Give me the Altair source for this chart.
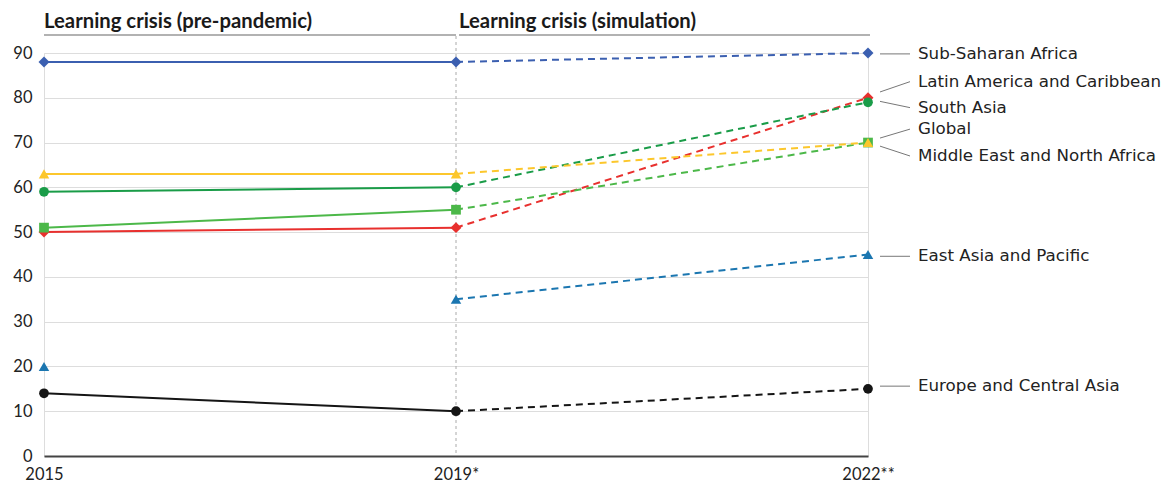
import altair as alt
import pandas as pd

# ---- data ----
years = ["2015", "2019*", "2022**"]
series = [
    "Sub-Saharan Africa",
    "Latin America and Caribbean",
    "South Asia",
    "Global",
    "Middle East and North Africa",
    "East Asia and Pacific",
    "Europe and Central Asia",
]
v2015 = [88, 50, 59, 51, 63, 20, 14]
v2019 = [88, 51, 60, 55, 63, 35, 10]
v2022 = [90, 80, 79, 70, 70, 45, 15]
pre_line = [True, True, True, True, True, False, True]

colors = ["#3b5fb0", "#e8302e", "#1a9c48", "#4cb849", "#fcc72c", "#1b76b0", "#151515"]
shapes = ["diamond", "diamond", "circle", "square", "triangle-up", "triangle-up", "circle"]
sizes = [120, 120, 95, 95, 110, 110, 95]

# label layout (in data units)
label_y = [89.8, 83.6, 77.8, 73.0, 67.0, 44.6, 15.6]
leader_y = [89.8, 81.3, 79.2, 71.0, 69.2, 44.6, 15.6]

headers = ["Learning crisis (pre-pandemic)", "Learning crisis (simulation)"]

FONT = "Lato"
LABEL_FONT = "DejaVu Sans"

rows = []
for i, s in enumerate(series):
    vals = [v2015[i], v2019[i], v2022[i]]
    for j, v in enumerate(vals):
        rows.append({"series": s, "idx": j, "value": v, "order": i, "size": sizes[i]})
df = pd.DataFrame(rows)

pre_rows = []
sim_rows = []
for i, s in enumerate(series):
    if pre_line[i]:
        pre_rows += [{"series": s, "idx": 0, "value": v2015[i]}, {"series": s, "idx": 1, "value": v2019[i]}]
    sim_rows += [{"series": s, "idx": 1, "value": v2019[i]}, {"series": s, "idx": 2, "value": v2022[i]}]
df_pre = pd.DataFrame(pre_rows)
df_sim = pd.DataFrame(sim_rows)

df_lab = pd.DataFrame({"series": series, "label_y": label_y, "leader_y": leader_y})

color_scale = alt.Scale(domain=series, range=colors)
shape_scale = alt.Scale(domain=series, range=shapes)

x_enc = alt.X(
    "idx:Q",
    scale=alt.Scale(domain=[0, 2], nice=False, zero=False),
    axis=alt.Axis(
        values=[0, 1, 2],
        labelExpr="['2015','2019*','2022**'][datum.value]",
        title=None,
        grid=False,
        ticks=False,
        domain=True,
        domainColor="#444444",
        domainWidth=2,
        labelPadding=10,
        labelFontSize=16.5,
        labelColor="#222222",
        labelFont=FONT,
        labelFlush=False,
    ),
)
y_enc = alt.Y(
    "value:Q",
    scale=alt.Scale(domain=[0, 90], nice=False),
    axis=alt.Axis(
        values=list(range(0, 100, 10)),
        title=None,
        grid=True,
        gridColor="#dddddd",
        ticks=False,
        domain=False,
        labelPadding=12,
        labelFontSize=16.5,
        labelColor="#222222",
        labelFont=FONT,
    ),
)

vrule = alt.Chart(pd.DataFrame({"idx": [1]})).mark_rule(
    color="#aaaaaa", strokeDash=[3, 3], strokeWidth=1
).encode(x=x_enc, y=alt.value(-17), y2=alt.value(403))

pre_lines = alt.Chart(df_pre).mark_line(strokeWidth=2).encode(
    x="idx:Q", y=y_enc,
    color=alt.Color("series:N", scale=color_scale, legend=None),
    detail="series:N",
)
sim_lines = alt.Chart(df_sim).mark_line(strokeWidth=2, strokeDash=[7, 5]).encode(
    x="idx:Q", y="value:Q",
    color=alt.Color("series:N", scale=color_scale, legend=None),
    detail="series:N",
)
points = alt.Chart(df).mark_point(filled=True, opacity=1).encode(
    x="idx:Q", y="value:Q",
    color=alt.Color("series:N", scale=color_scale, legend=None),
    shape=alt.Shape("series:N", scale=shape_scale, legend=None),
    size=alt.Size("size:Q", scale=None, legend=None),
    order="order:Q",
)

leaders = alt.Chart(df_lab).mark_rule(color="#777777", strokeWidth=1).encode(
    x=alt.value(836), x2=alt.value(866),
    y=alt.Y("leader_y:Q"), y2="label_y:Q",
)
labels = alt.Chart(df_lab).mark_text(
    align="left", baseline="middle", font=LABEL_FONT, fontSize=16.7, color="#222222"
).encode(x=alt.value(874), y="label_y:Q", text="series:N")

hdr1 = alt.Chart(pd.DataFrame({"text": [headers[0]]})).mark_text(
    align="left", baseline="alphabetic", font=FONT, fontSize=20.3, fontWeight="bold", color="#1a1a1a"
).encode(x=alt.value(0), y=alt.value(-25), text="text:N")
hdr2 = alt.Chart(pd.DataFrame({"text": [headers[1]]})).mark_text(
    align="left", baseline="alphabetic", font=FONT, fontSize=20.3, fontWeight="bold", color="#1a1a1a"
).encode(x=alt.value(415), y=alt.value(-25), text="text:N")
ul1 = alt.Chart(pd.DataFrame({"a": [0]})).mark_rule(color="#666666", strokeWidth=1.2).encode(
    x=alt.value(0), x2=alt.value(412), y=alt.value(-18)
)
ul2 = alt.Chart(pd.DataFrame({"a": [0]})).mark_rule(color="#666666", strokeWidth=1.2).encode(
    x=alt.value(415), x2=alt.value(826), y=alt.value(-18)
)

chart = alt.layer(
    vrule, pre_lines, sim_lines, points, leaders, labels, hdr1, hdr2, ul1, ul2
).properties(
    width=824, height=403,
    autosize=alt.AutoSizeParams(type="none"),
    padding={"left": 36, "top": 45, "right": 300, "bottom": 30},
).configure_view(stroke=None).configure(background="white")

chart.save("out.html", embed_options={"renderer": "svg", "actions": False})
